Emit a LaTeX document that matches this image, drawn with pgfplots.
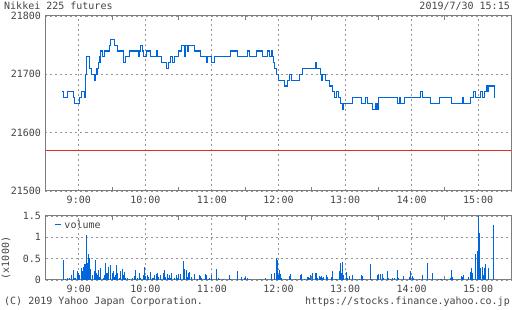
\documentclass[border=0pt]{standalone}
\usepackage{pgfplots}
\pgfplotsset{compat=1.18}
\usepackage{fontspec}
\setmainfont{DejaVu Sans Mono}
\setmonofont{DejaVu Sans Mono}
\definecolor{txt}{RGB}{68,68,68}
\definecolor{framec}{RGB}{125,125,125}
\definecolor{gridc}{RGB}{150,150,150}
\definecolor{blue1}{RGB}{0,102,221}
\definecolor{redl}{RGB}{230,40,40}
\pgfplotsset{
  common/.style={
    scale only axis, width=466pt, xmin=510, xmax=930,
    axis line style={draw=framec, line width=1pt},
    xtick={540,600,...,900},
    xticklabels={9:00,10:00,11:00,12:00,13:00,14:00,15:00},
    minor xtick={570,630,...,870},
    major tick length=0pt, minor tick length=4pt,
    every tick/.style={draw=framec, line width=1pt},
    grid=major,
    major grid style={draw=gridc, dash pattern=on 2pt off 3pt, line width=0.9pt},
    tick label style={font=\fontsize{10}{12}\selectfont, text=txt},
    xticklabel style={yshift=-1.5pt},
    yticklabel style={xshift=-1pt},
    /pgf/number format/assume math mode=true,
    scaled ticks=false,
    clip=true,
  }
}
\begin{document}
\begin{tikzpicture}[x=1pt,y=1pt]
\useasboundingbox (0,0) rectangle (512,310);
\begin{axis}[common, at={(45.5pt,119pt)}, anchor=south west, height=175pt,
  ymin=21500, ymax=21800,
  ytick={21500,21600,21700,21800},
  yticklabels={21500,21600,21700,21800}]
\addplot[redl, line width=0.9pt] coordinates {(510,21570) (930,21570)};
\addplot[const plot, blue1, line width=1.1pt] coordinates {
(525,21670) (526.5,21660) (529.6,21670) (535,21660) (536.4,21650) (540.6,21660)
(542.4,21670) (545.1,21660) (545.9,21670) (546.3,21700) (547.2,21730) (549.9,21710)
(551.2,21700) (554.4,21690) (555.3,21700) (555.9,21710) (556.6,21700) (557.1,21710)
(558,21720) (558.6,21730) (559.1,21720) (559.5,21740) (561.6,21730) (563.4,21740)
(567.9,21750) (568.8,21760) (572.4,21750) (574.8,21740) (580.5,21720) (582.3,21730)
(585.6,21740) (593.5,21730) (594.4,21740) (595.8,21750) (597.6,21740) (598.2,21730)
(600.7,21740) (604.8,21730) (609.7,21740) (610.8,21730) (614.4,21720) (618.9,21710)
(620.7,21720) (622.5,21730) (624.3,21720) (626.4,21730) (630,21740) (632.7,21750)
(635.1,21730) (636.3,21750) (637.6,21740) (639,21750) (644.4,21740) (649.8,21730)
(654.9,21720) (656.1,21730) (659.4,21720) (662.4,21730) (676.8,21740) (683.1,21730)
(692.1,21740) (693.9,21730) (700.2,21740) (705.6,21730) (709.8,21740) (711.9,21730)
(713.4,21740) (714.6,21730) (715.9,21720) (716.8,21710) (718,21700) (720,21690)
(725.4,21680) (728.1,21690) (729.6,21700) (731.7,21690) (738.9,21700) (741.6,21710)
(753,21720) (754.2,21710) (757.8,21700) (758.7,21690) (760,21700) (762.3,21690)
(765.9,21680) (768.6,21670) (770.4,21660) (771.9,21670) (774,21660) (775.5,21650)
(777.3,21640) (778.9,21650) (786.6,21660) (795.1,21650) (798.3,21660) (800.1,21650)
(804.6,21640) (807.9,21650) (808.8,21640) (810,21660) (827.4,21650) (828.9,21660)
(829.8,21650) (833.7,21660) (847.8,21670) (849.9,21660) (857.1,21650) (865.2,21660)
(876,21650) (885.6,21660) (886.8,21650) (893.2,21660) (896.1,21670) (897.3,21660)
(902.4,21670) (903.6,21660) (906,21670) (907.8,21680) (908.7,21670) (909.6,21680)
(914.8,21660)};
\end{axis}
\begin{axis}[common, at={(45.5pt,30pt)}, anchor=south west, height=64pt,
  ymin=0, ymax=1.5,
  ytick={0,0.5,1,1.5},
  yticklabels={0,0.5,1,1.5},
  legend style={draw=none, fill=none, at={(rel axis cs:0.0195,0.86)}, anchor=west,
    font=\fontsize{10}{12}\selectfont, text=txt, inner sep=0pt,
    nodes={inner sep=2.7pt}}]
\addlegendimage{legend image code/.code={\draw[blue1,line width=1pt](0pt,0pt)--(6pt,0pt);}}
\addlegendentry{volume}
\addplot[ycomb, blue1, line width=1pt, forget plot] coordinates {
(526,0.47) (528,0.02) (530,0.04) (532,0.05) (533,0.12) (535,0.23) (536,0.04) (537,0.05)
(539,0.20) (540,0.16) (541,0.12) (542,0.27) (543,0.20) (544,0.31) (545,0.37) (546,0.37)
(547,1.05) (548,0.39) (549,0.62) (550,0.51) (551,0.26) (552,0.12) (554,0.20) (555,0.47)
(556,0.16) (557,0.12) (558,0.23) (559,0.08) (560,0.27) (562,0.04) (563,0.12) (564,0.41)
(565,0.16) (566,0.16) (567,0.31) (569,0.34) (570,0.16) (571,0.20) (572,0.08) (573,0.12)
(574,0.34) (575,0.16) (577,0.05) (578,0.21) (579,0.26) (580,0.12) (581,0.18) (582,0.05)
(584,0.04) (586,0.02) (588,0.04) (590,0.10) (591,0.23) (593,0.04) (595,0.16) (596,0.04)
(598,0.12) (599,0.31) (600,0.10) (602,0.12) (603,0.08) (605,0.18) (606,0.05) (607,0.04)
(608,0.12) (610,0.13) (611,0.16) (612,0.06) (614,0.12) (616,0.16) (617,0.23) (618,0.08)
(620,0.13) (621,0.04) (622,0.12) (623,0.04) (624,0.16) (626,0.04) (628,0.12) (629,0.04)
(630,0.14) (632,0.13) (634,0.45) (635,0.26) (637,0.23) (638,0.08) (639,0.16) (640,0.18)
(642,0.08) (644,0.14) (647,0.02) (649,0.12) (650,0.10) (651,0.04) (653,0.02) (654,0.13)
(655,0.12) (657,0.02) (658,0.05) (660,0.12) (664,0.26) (666,0.04) (667,0.02) (670,0.02)
(676,0.12) (677,0.02) (683,0.21) (687,0.08) (689,0.04) (690,0.06) (692,0.04) (694,0.02)
(704,0.02) (708,0.04) (714,0.14) (716,0.16) (718,0.51) (719,0.47) (720,0.12) (721,0.23)
(722,0.13) (723,0.05) (726,0.02) (730,0.09) (731,0.14) (735,0.02) (740,0.12) (741,0.14)
(743,0.02) (746,0.08) (747,0.06) (748,0.04) (749,0.12) (751,0.16) (753,0.16) (754,0.16)
(755,0.04) (757,0.10) (758,0.08) (759,0.10) (760,0.04) (761,0.08) (763,0.12) (764,0.08)
(768,0.08) (769,0.21) (771,0.02) (772,0.02) (775,0.21) (776,0.39) (777,0.16) (778,0.43)
(779,0.12) (781,0.18) (782,0.04) (784,0.10) (787,0.12) (789,0.02) (793,0.02) (795,0.12)
(796,0.10) (797,0.02) (803,0.37) (804,0.02) (809,0.12) (810,0.13) (812,0.13) (814,0.13)
(815,0.04) (818,0.21) (819,0.04) (821,0.02) (823,0.04) (825,0.05) (827,0.23) (828,0.04)
(833,0.09) (838,0.07) (839,0.20) (841,0.09) (842,0.05) (847,0.03) (850,0.12) (854,0.41)
(856,0.03) (859,0.16) (864,0.03) (866,0.03) (867,0.03) (870,0.02) (875,0.05) (876,0.23)
(877,0.06) (878,0.03) (882,0.02) (885,0.09) (886,0.08) (887,0.12) (889,0.01) (891,0.07)
(893,0.19) (894,0.27) (895,0.17) (896,0.03) (898,0.62) (899,0.69) (900,1.49) (901,1.09)
(902,0.27) (904,0.30) (905,0.11) (906,0.28) (907,0.38) (909,0.28) (914,1.28)};
\end{axis}
\node[rotate=90, text=txt, inner sep=0pt, font=\fontsize{10}{12}\selectfont] at (6,52) {(x1000)};
\node[anchor=base west, text=txt, inner sep=0pt, font=\fontsize{10}{12}\selectfont] at (4,300) {Nikkei 225 futures};
\node[anchor=base east, text=txt, inner sep=0pt, font=\fontsize{10}{12}\selectfont] at (510,300) {2019/7/30 15:15};
\node[anchor=base west, text=txt, inner sep=0pt, font=\fontsize{10}{12}\selectfont] at (4,5) {(C) 2019 Yahoo Japan Corporation.};
\node[anchor=base east, text=txt, inner sep=0pt, font=\fontsize{10}{12}\selectfont] at (510,5) {https://stocks.finance.yahoo.co.jp};
\end{tikzpicture}
\end{document}
